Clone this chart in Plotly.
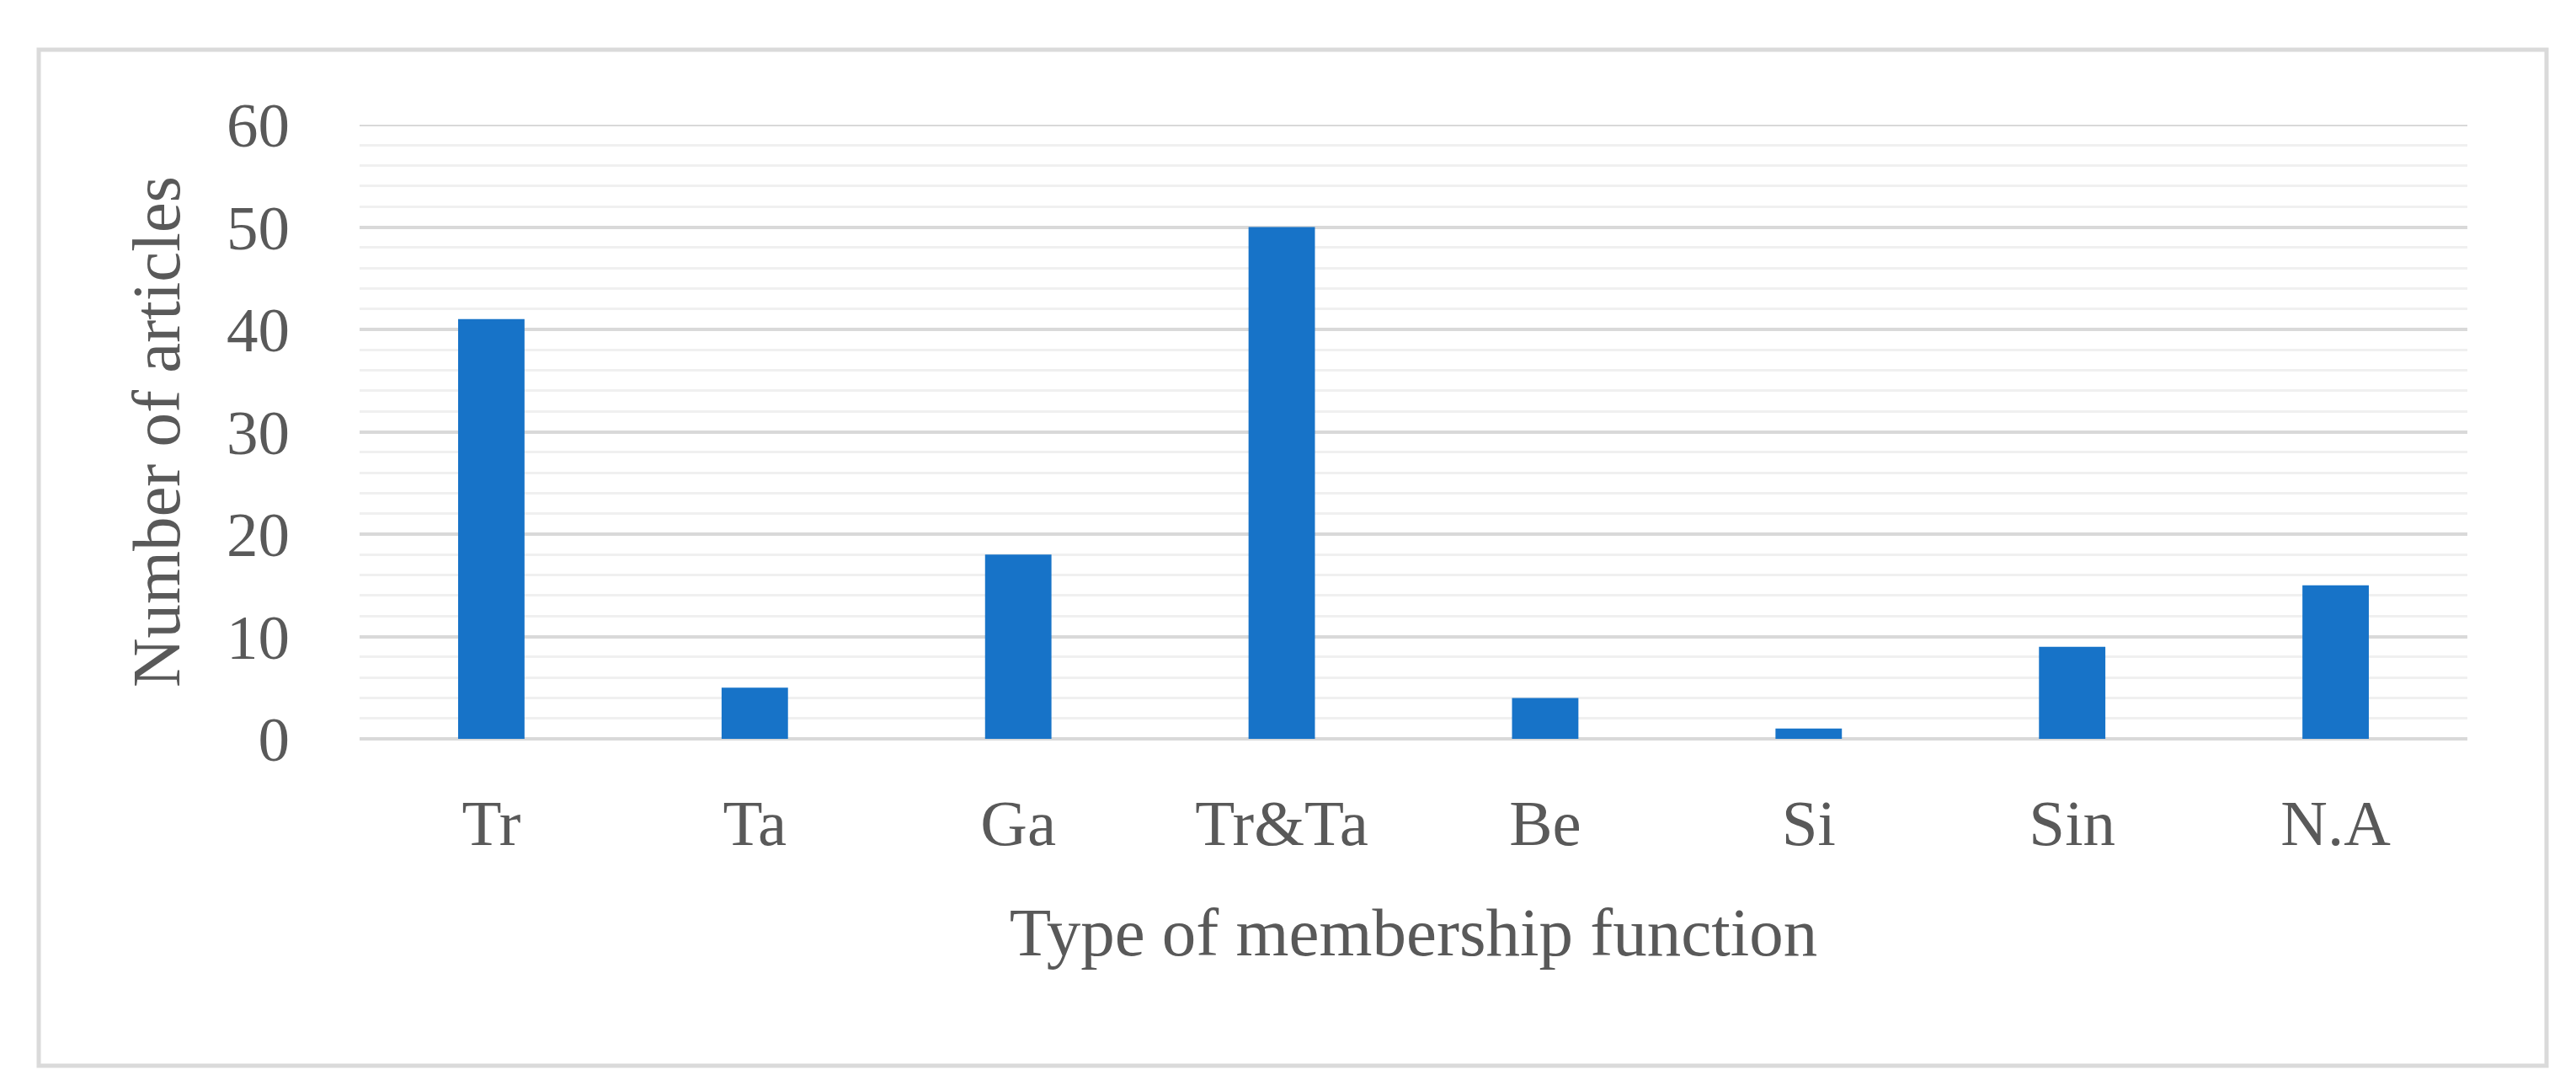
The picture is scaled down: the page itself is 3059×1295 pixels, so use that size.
import plotly.graph_objects as go

categories = ["Tr", "Ta", "Ga", "Tr&Ta", "Be", "Si", "Sin", "N.A"]
articles = [41, 5, 18, 50, 4, 1, 9, 15]
y_ticks = [0, 10, 20, 30, 40, 50, 60]

W, H = 3059, 1295
L, R, T, B = 419, 3059 - 2922, 140, 1295 - 869
pw, ph = W - L - R, H - T - B

FONT = "Liberation Serif, Times New Roman, serif"
TXT = "#595959"
GRID = "#D9D9D9"

fig = go.Figure(
    go.Bar(
        x=categories,
        y=articles,
        marker=dict(color="#1773C8", line=dict(width=0)),
    )
)

fig.update_layout(
    width=W,
    height=H,
    margin=dict(l=L, r=R, t=T, b=B, autoexpand=False),
    paper_bgcolor="white",
    plot_bgcolor="white",
    bargap=0.748,
    showlegend=False,
    font=dict(family=FONT, color=TXT),
)

fig.update_xaxes(
    showgrid=False,
    showline=False,
    zeroline=False,
    ticks="",
    tickfont=dict(family=FONT, size=77, color=TXT),
    ticklabelstandoff=48,
    title=dict(text="Type of membership function",
               font=dict(family=FONT, size=81, color=TXT),
               standoff=58),
    automargin=False,
)

fig.update_yaxes(
    range=[y_ticks[0], y_ticks[-1]],
    tickvals=y_ticks,
    showgrid=True,
    gridcolor=GRID,
    gridwidth=4,
    zeroline=True,
    zerolinecolor=GRID,
    zerolinewidth=4,
    showline=False,
    ticks="",
    minor=dict(dtick=2, showgrid=True, gridcolor="#F0F0F0", gridwidth=3),
    tickfont=dict(family=FONT, size=75, color=TXT),
    ticklabelstandoff=82,
    title=dict(text="Number of articles",
               font=dict(family=FONT, size=81, color=TXT),
               standoff=28),
    automargin=False,
    layer="below traces",
)

# top major gridline (plotly clips gridlines at the range edge)
fig.add_shape(
    type="line", xref="x domain", yref="y",
    x0=0, x1=1, y0=y_ticks[-1], y1=y_ticks[-1],
    line=dict(color=GRID, width=4),
    layer="below",
)

# outer chart-area frame
fig.add_shape(
    type="rect", xref="paper", yref="paper",
    x0=(38 - L) / pw, x1=(3016 - L) / pw,
    y0=(869 - 1257) / ph, y1=(869 - 51) / ph,
    line=dict(color="#DADADA", width=5),
    fillcolor="rgba(0,0,0,0)",
    layer="below",
)

fig.write_html("out.html")
